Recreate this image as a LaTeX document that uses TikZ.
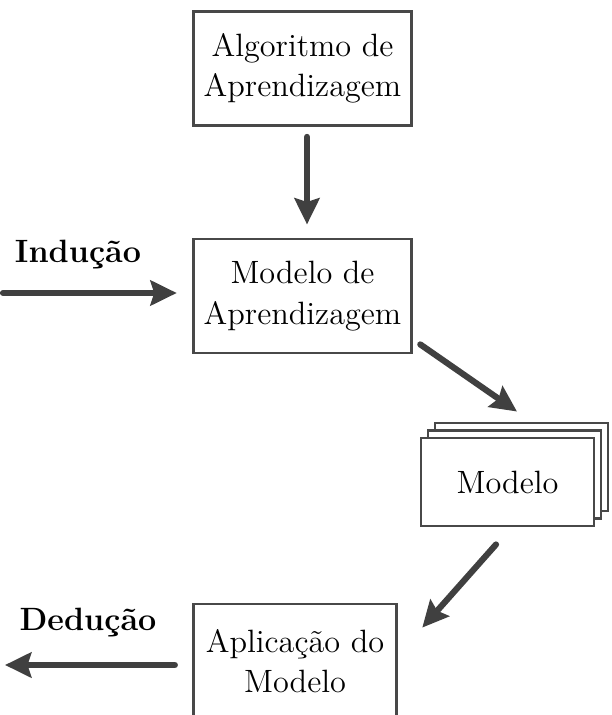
\documentclass[tikz,border=0pt]{standalone}
\usepackage{tikz}
\usetikzlibrary{positioning,arrows.meta}
\definecolor{boxgray}{RGB}{72,72,72}
\definecolor{arrowgray}{RGB}{64,64,64}

\begin{document}
\begin{tikzpicture}[x=0.016cm,y=-0.016cm,font=\fontsize{14.7}{18.4}\selectfont]
 \tikzset{box/.style={draw=boxgray,line width=1.3pt,fill=white,align=center,minimum width=3.5cm,minimum height=1.824cm},
  stack/.style={box,minimum width=2.77cm,minimum height=1.41cm},
  lbl/.style={font=\fontsize{14.7}{18.4}\selectfont\bfseries},
  arrow/.style={line width=2.8pt,arrowgray,line cap=round,-{Stealth[length=0.42cm,width=0.4cm,inset=0.06cm]}}}
 \useasboundingbox (0,0) rectangle (611,715);
 \clip (0,0) rectangle (611,715);

 \node[box] (A) at (302.5,68.5) {Algoritmo de\\Aprendizagem};
 \node[box] (B) at (302.5,296) {Modelo de\\Aprendizagem};
 \node[stack] (C2) at (521.5,467) {};
 \node[stack] (C1) at (514.5,474.5) {};
 \node[stack] (C) at (507.5,482) {Modelo};
 \node[box,minimum width=3.26cm] (D) at (295,661) {Aplicação do\\Modelo};

 \node[lbl] (I) at (78,255) {Indução};
 \node[lbl] (E) at (88,623) {Dedução};
 \coordinate (i0) at (3,293);
 \coordinate (e0) at (5,665);

 \draw[arrow,shorten <=0.16cm,shorten >=0.21cm] ([shift={(4.5,0)}]A.south) -- ([shift={(4.5,0)}]B.north);
 \draw[arrow] ([shift={(7,-10)}]B.south east) -- ([shift={(-4.5,-10)}]C2.north);
 \draw[arrow] ([shift={(-11.5,17)}]C.south) -- ([shift={(24,25)}]D.north east);
 \draw[arrow,shorten >=0.24cm] (i0) -- (i0 -| B.west);
 \draw[arrow,shorten <=0.27cm] (e0 -| D.west) -- (e0);
\end{tikzpicture}
\end{document}
